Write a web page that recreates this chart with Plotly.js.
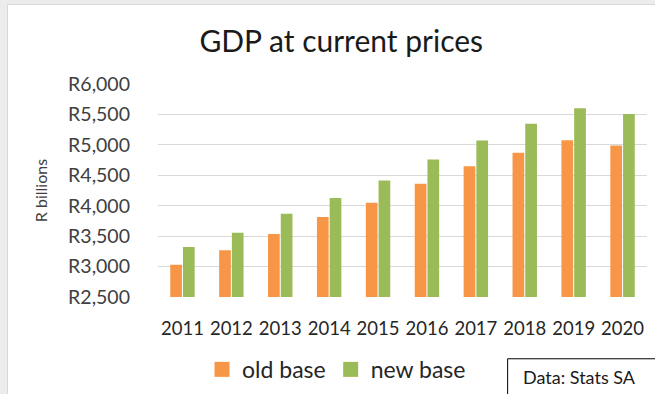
<!DOCTYPE html>
<html><head><meta charset="utf-8">
<script src="https://cdn.plot.ly/plotly-3.0.1.min.js"></script>
<style>
html,body{margin:0;padding:0;background:#ececec;width:655px;height:394px;overflow:hidden;}
#chart{position:absolute;left:7px;top:4px;width:648px;height:390px;border-left:1px solid #d8d8d8;border-top:1px solid #d8d8d8;box-sizing:border-box;}
</style></head>
<body><div id="chart"></div>
<script>
const years = ['2011','2012','2013','2014','2015','2016','2017','2018','2019','2020'];
const oldBase = [3030, 3270, 3535, 3815, 4050, 4360, 4650, 4870, 5075, 4990];
const newBase = [3320, 3555, 3870, 4125, 4415, 4760, 5070, 5345, 5600, 5505];
const yTicks = [2500, 3000, 3500, 4000, 4500, 5000, 5500, 6000];

const FONT = 'Lato, "Open Sans", sans-serif';
const traces = [
  {type:'bar', name:'old base', x:years, y:oldBase, marker:{color:'#F79646'}},
  {type:'bar', name:'new base', x:years, y:newBase, marker:{color:'#9BBB59'}}
];
const layout = {
  width:647, height:389,
  margin:{l:150, r:8, t:79, b:97, autoexpand:false},
  paper_bgcolor:'#ffffff', plot_bgcolor:'#ffffff',
  font:{family:FONT, color:'#404040', size:16},
  title:{text:'GDP at current prices', font:{family:FONT, size:30, color:'#1a1a1a'}, x:0.515, xanchor:'center', y:0.905, yanchor:'middle'},
  barmode:'group', bargap:0.48, bargroupgap:0.08,
  xaxis:{type:'category', tickfont:{size:18.5, color:'#262626'}, showline:false, ticks:'', ticklabelstandoff:18},
  yaxis:{range:[2500,6000], tickvals:yTicks, ticktext:yTicks.map(v=>'R'+v.toLocaleString('en-US')),
    gridcolor:'#d9d9d9', gridwidth:1, zeroline:false, ticks:'', tickfont:{size:19.5, color:'#404040'},
    ticklabelstandoff:27,
    title:{text:'R billions', font:{size:16, color:'#404040'}, standoff:16}},
  showlegend:true,
  legend:{orientation:'h', x:0.09, xanchor:'left', y:-0.34, yanchor:'middle', font:{size:23, color:'#262626'}, itemwidth:30, traceorder:'normal', tracegroupgap:0},
  shapes:[{type:'rect', xref:'paper', yref:'paper', x0:0.715, x1:1.03, y0:-0.46, y1:-0.29, line:{color:'#000', width:1}, fillcolor:'rgba(0,0,0,0)'}],
  annotations:[{text:'Data: Stats SA', xref:'paper', yref:'paper', x:0.742, y:-0.375, xanchor:'left', yanchor:'middle', showarrow:false, font:{size:18, color:'#1a1a1a'}}]
};
Plotly.newPlot('chart', traces, layout, {displayModeBar:false, staticPlot:true}).then(gd => {
  gd.querySelectorAll('.legend .legendpoints path').forEach(p => {
    p.setAttribute('transform', (p.getAttribute('transform')||'') + ' scale(1.25)');
  });
});
</script></body></html>
